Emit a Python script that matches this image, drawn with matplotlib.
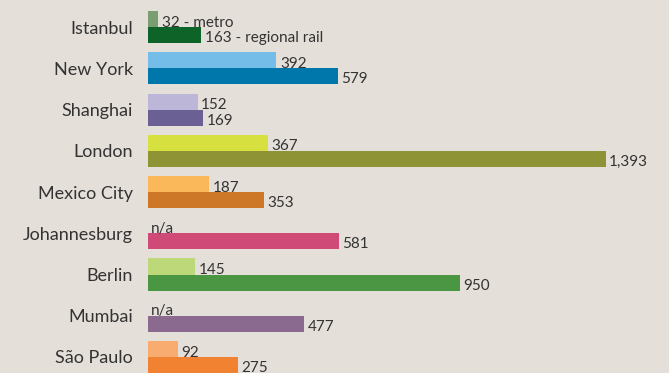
import matplotlib

matplotlib.use("Agg")
import matplotlib.pyplot as plt
import numpy as np

# km of urban rail per city: first line is metro, second regional rail
cities = ["Istanbul", "New York", "Shanghai", "London", "Mexico City",
          "Johannesburg", "Berlin", "Mumbai", "São Paulo"]
metro = [32, 392, 152, 367, 187, None, 145, None, 92]
regional = [163, 579, 169, 1393, 353, 581, 950, 477, 275]

metro_colors = ["#7a9e72", "#74bde8", "#bcb6d9", "#d6e03e", "#fbb85a",
                "#d04a78", "#bcd878", "#8b6a90", "#f9ac70"]
regional_colors = ["#0e6428", "#0077aa", "#6a6093", "#8e9336", "#cc7828",
                   "#d04a78", "#4a9642", "#8b6a90", "#f08232"]

BG = "#e4dfd9"
TXT = "#333333"
FONT = ["Lato", "DejaVu Sans"]

fig = plt.figure(figsize=(6.69, 3.73), dpi=100, facecolor=BG)
ax = fig.add_axes([147.5 / 669, 0, 1 - 147.5 / 669, 1], facecolor=BG)

h = 0.388
y = np.arange(len(cities))
for i in y:
    if metro[i] is not None:
        ax.barh(i - h / 2, metro[i], height=h, color=metro_colors[i], lw=0)
    ax.barh(i + h / 2, regional[i], height=h, color=regional_colors[i], lw=0)

    if metro[i] is None:
        top_txt, top_x = "n/a", 0
    else:
        top_txt, top_x = (f"{metro[i]:,} - metro" if i == 0 else f"{metro[i]:,}"), metro[i]
    bot_txt = f"{regional[i]:,} - regional rail" if i == 0 else f"{regional[i]:,}"
    ax.annotate(top_txt, (top_x, i - 0.01), xytext=(2.5, 0), textcoords="offset points",
                va="baseline", ha="left", fontsize=11, color=TXT, family=FONT)
    ax.annotate(bot_txt, (regional[i], i + h - 0.02), xytext=(2.5, 0), textcoords="offset points",
                va="baseline", ha="left", fontsize=11, color=TXT, family=FONT)

ax.set_xlim(0, (669 - 147.5) / 0.329)
ax.set_ylim(8.388, -0.655)
ax.set_yticks(y)
ax.set_yticklabels(cities, fontsize=13, color=TXT, family=FONT)
ax.tick_params(axis="y", length=0, pad=10.5)
ax.set_xticks([])
for s in ax.spines.values():
    s.set_visible(False)

fig.savefig("out.png", dpi=100, facecolor=BG)
